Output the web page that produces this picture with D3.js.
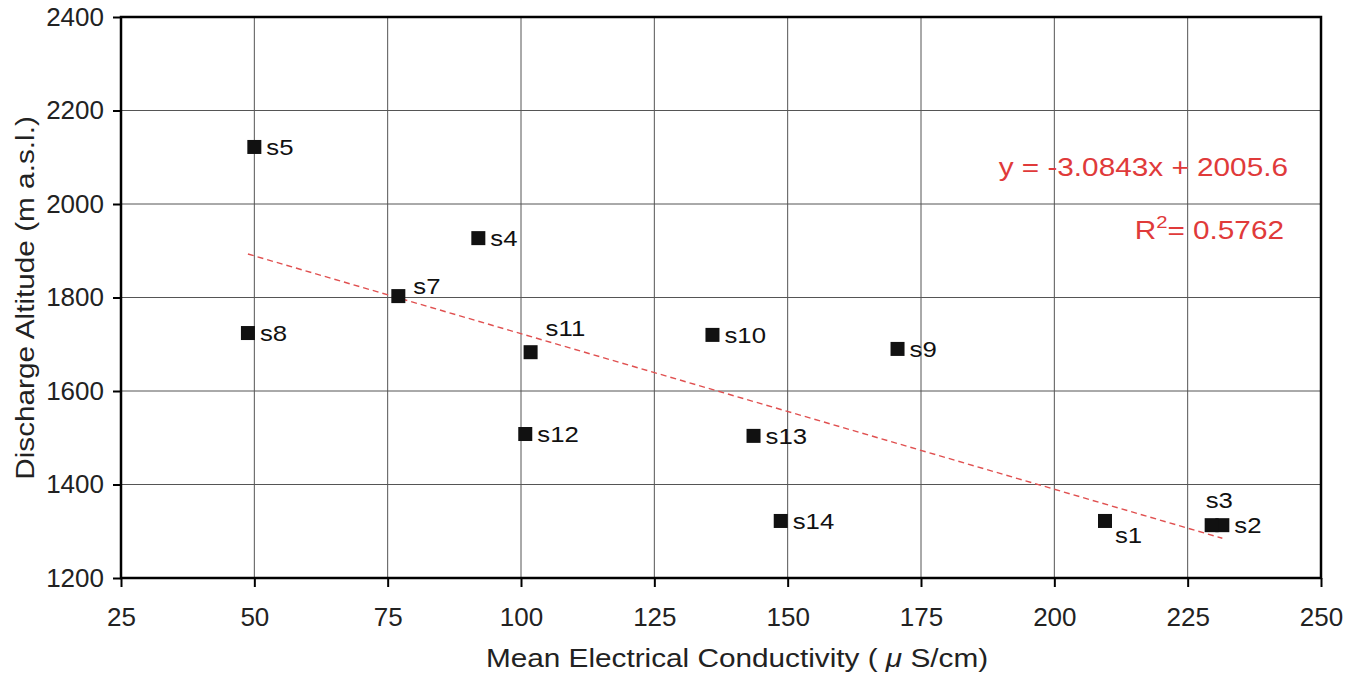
<!DOCTYPE html>
<meta charset="utf-8">
<html>
<head>
<meta charset="utf-8">
<title>EC vs altitude</title>
<style>
  body { margin: 0; background: #fff; }
  text { font-family: "Liberation Sans", Arial, sans-serif; }
  .grid line { stroke: #555; stroke-width: 1; }
  .axis path, .axis line { stroke: #000; }
  .axis text { font-size: 26px; fill: #222; font-family: "Liberation Sans", Arial, sans-serif; }
  .lbl { font-size: 23px; fill: #111; }
  .eq { font-size: 25px; fill: #e03a3a; }
</style>
</head>
<body>
<svg width="1357" height="676"></svg>
<script src="https://d3js.org/d3.v7.min.js"></script>
<script>

// springs
var names = ["s1","s2","s3","s4","s5","s7","s8","s9","s10","s11","s12","s13","s14"];
var ec    = [209.5, 231.5, 229.5, 92, 50, 77, 48.8, 170.6, 135.9, 101.8, 100.8, 143.6, 148.7];
var alt   = [1322, 1313, 1313, 1927, 2122, 1803, 1724, 1690, 1720, 1683, 1508, 1504, 1322];
// where the label sits relative to the marker
var labelSide = ["br","r","u","r","r","ur","r","r","r","uu","r","r","r"];

var xTicks = [25, 50, 75, 100, 125, 150, 175, 200, 225, 250];
var yTicks = [1200, 1400, 1600, 1800, 2000, 2200, 2400];

// trend line end points as drawn
var trendX = [48.8, 231.5];
var trendY = [1893, 1285];

var eqText = "y = -3.0843x + 2005.6";
var r2Value = "= 0.5762";

var svg = d3.select("svg");
var mLeft = 121, mRight = 1321, mTop = 17, mBottom = 578;

var x = d3.scaleLinear().domain([25, 250]).range([mLeft, mRight]);
var y = d3.scaleLinear().domain([1200, 2400]).range([mBottom, mTop]);

// grid
var grid = svg.append("g").attr("class", "grid");
grid.selectAll("line.v").data(xTicks.slice(1, -1)).enter().append("line")
    .attr("class", "v")
    .attr("x1", d => x(d)).attr("x2", d => x(d))
    .attr("y1", mTop).attr("y2", mBottom);
grid.selectAll("line.h").data(yTicks.slice(1, -1)).enter().append("line")
    .attr("class", "h")
    .attr("x1", mLeft).attr("x2", mRight)
    .attr("y1", d => y(d)).attr("y2", d => y(d));

// axes
var xAxis = svg.append("g").attr("class", "axis")
  .attr("transform", "translate(0," + mBottom + ")")
  .call(d3.axisBottom(x).tickValues(xTicks).tickFormat(d3.format("d")).tickSize(9).tickPadding(21).tickSizeOuter(0));
var yAxis = svg.append("g").attr("class", "axis")
  .attr("transform", "translate(" + mLeft + ",0)")
  .call(d3.axisLeft(y).tickValues(yTicks).tickFormat(d3.format("d")).tickSize(8).tickPadding(9).tickSizeOuter(0));
xAxis.select(".domain").remove();
yAxis.select(".domain").remove();
xAxis.selectAll("line").attr("stroke-width", 2);
yAxis.selectAll("line").attr("stroke-width", 2);

// frame
svg.append("rect")
  .attr("x", mLeft).attr("y", mTop)
  .attr("width", mRight - mLeft).attr("height", mBottom - mTop)
  .attr("fill", "none").attr("stroke", "#000").attr("stroke-width", 2.5);

// trend line
svg.append("line")
  .attr("x1", x(trendX[0])).attr("y1", y(trendY[0]))
  .attr("x2", x(trendX[1])).attr("y2", y(trendY[1]))
  .attr("stroke", "#e05050").attr("stroke-width", 1.4)
  .attr("stroke-dasharray", "6,4");

// points
var pts = names.map(function(n, i) { return {name: n, ec: ec[i], alt: alt[i], side: labelSide[i]}; });
var sq = 14;
svg.append("g").selectAll("rect").data(pts).enter().append("rect")
  .attr("x", d => x(d.ec) - sq / 2).attr("y", d => y(d.alt) - sq / 2)
  .attr("width", sq).attr("height", sq).attr("fill", "#111");

var off = { r: [12, 0], ur: [15, -10], uu: [15, -24], br: [10, 14], u: [-6, -25] };
svg.append("g").selectAll("text").data(pts).enter().append("text")
  .attr("class", "lbl")
  .attr("transform", d => "translate(" + (x(d.ec) + off[d.side][0]) + "," + (y(d.alt) + off[d.side][1]) + ") scale(1.12,1)")
  .attr("dy", "0.35em")
  .text(d => d.name);

// equation
svg.append("text").attr("class", "eq")
  .attr("transform", "translate(1288,176) scale(1.19,1)")
  .attr("text-anchor", "end")
  .text(eqText);
var r2 = svg.append("text").attr("class", "eq")
  .attr("transform", "translate(1284,239) scale(1.19,1)")
  .attr("text-anchor", "end");
r2.append("tspan").text("R");
r2.append("tspan").attr("dy", -11).attr("font-size", 17).text("2");
r2.append("tspan").attr("dy", 11).text(r2Value);

// axis titles
var xt = svg.append("text")
  .attr("transform", "translate(" + ((mLeft + mRight) / 2 + 16) + ",667) scale(1.19,1)")
  .attr("text-anchor", "middle").attr("font-size", 25).attr("fill", "#222");
xt.append("tspan").text("Mean Electrical Conductivity ( ");
xt.append("tspan").attr("font-style", "italic").text("\u03bc");
xt.append("tspan").text(" S/cm)");
svg.append("text")
  .attr("transform", "translate(34,298) rotate(-90) scale(1.19,1)")
  .attr("text-anchor", "middle").attr("font-size", 25).attr("fill", "#222")
  .text("Discharge Altitude (m a.s.l.)");

</script>
</body>
</html>
